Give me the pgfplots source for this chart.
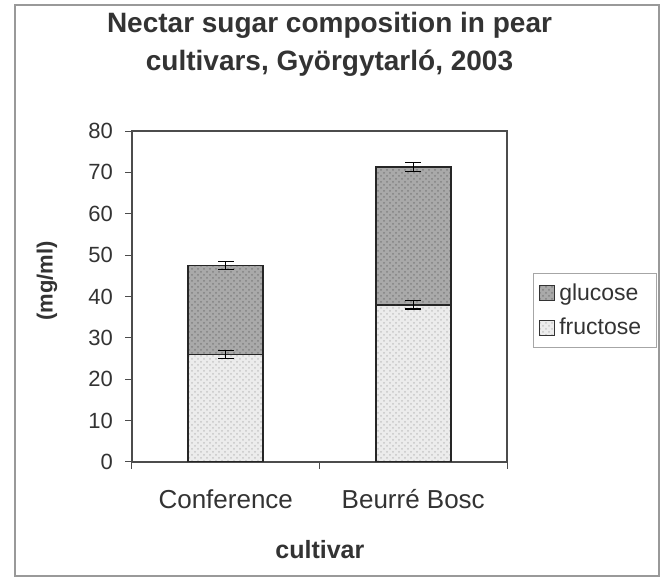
\documentclass[border=0pt]{standalone}
\usepackage{fontspec}
\setmainfont{Liberation Sans}
\usepackage{pgfplots}
\pgfplotsset{compat=1.18}
\usetikzlibrary{patterns}
\definecolor{gluc}{HTML}{A9A9A9}
\definecolor{fruc}{HTML}{ECECEC}
\begin{document}
\begin{tikzpicture}
\path[use as bounding box] (-66pt,-59.5pt) rectangle (265.5pt,231pt);
\draw[gray!80, line width=0.6pt] (-58.5pt,-57pt) rectangle (263.5pt,228.5pt);
\begin{axis}[
  at={(0,0)}, anchor=south west,
  scale only axis, width=187.5pt, height=165.5pt,
  ybar stacked, bar width=37.5pt,
  xmin=-0.5, xmax=1.5, ymin=0, ymax=80,
  ytick={0,10,...,80},
  xtick={-0.5,0.5,1.5}, xticklabels={,,},
  extra x ticks={0,1}, extra x tick labels={Conference,Beurré Bosc},
  extra x tick style={major tick length=0pt},
  xtick pos=bottom, ytick pos=left,
  tick align=outside, major tick length=3.5pt,
  tick style={gray!60!black, line width=0.5pt},
  axis line style={gray!60!black, line width=0.6pt},
  /pgf/number format/assume math mode=true,
  yticklabel style={font=\fontsize{11}{12}\selectfont, color=black!80, xshift=-2.5pt},
  xticklabel style={font=\fontsize{13}{14}\selectfont, color=black!80, yshift=-9.5pt, text height=10pt, text depth=3pt},
  title={Nectar sugar composition in pear\\cultivars, Györgytarló, 2003},
  title style={at={(axis description cs:0.5267,1.2266)}, anchor=center, align=center, font=\bfseries\fontsize{14}{19}\selectfont, color=black!80},
  ylabel={(mg/ml)},
  ylabel style={at={(axis description cs:-0.2267,0.547)}, anchor=center, rotate=0, font=\bfseries\fontsize{11}{12}\selectfont, color=black!80},
  xlabel={cultivar},
  xlabel style={at={(axis description cs:0.501,-0.266)}, anchor=center, font=\bfseries\fontsize{12.5}{13}\selectfont, color=black!80},
  legend style={at={(axis description cs:1.069,0.571)}, anchor=north west, draw=gray!70, font=\fontsize{11.5}{13}\selectfont, inner xsep=3pt, inner ysep=3pt, row sep=3.5pt, cells={anchor=west}, text=black!80},
  legend cell align=left,
  legend image code/.code={\draw[#1, draw=black!80, line width=0.6pt] (0cm,-0.13cm) rectangle (0.26cm,0.13cm);},
  reverse legend,
  error bars/error bar style={line width=0.6pt, black},
  error bars/error mark options={rotate=90, mark size=4pt, line width=0.6pt},
]
\addplot[fill=fruc, draw=black!85, line width=0.8pt,
  postaction={pattern=crosshatch dots, pattern color=gray!45},
  error bars/.cd, y dir=both, y explicit]
  coordinates {(0,26) +- (0,1) (1,38) +- (0,1)};
\addlegendentry{fructose\hspace*{2.5pt}}
\addplot[fill=gluc, draw=black!85, line width=0.8pt,
  postaction={pattern=crosshatch dots, pattern color=gray!60!black!70},
  error bars/.cd, y dir=both, y explicit]
  coordinates {(0,21.5) +- (0,1) (1,33.3) +- (0,1)};
\addlegendentry{glucose}
\end{axis}
\end{tikzpicture}
\end{document}
